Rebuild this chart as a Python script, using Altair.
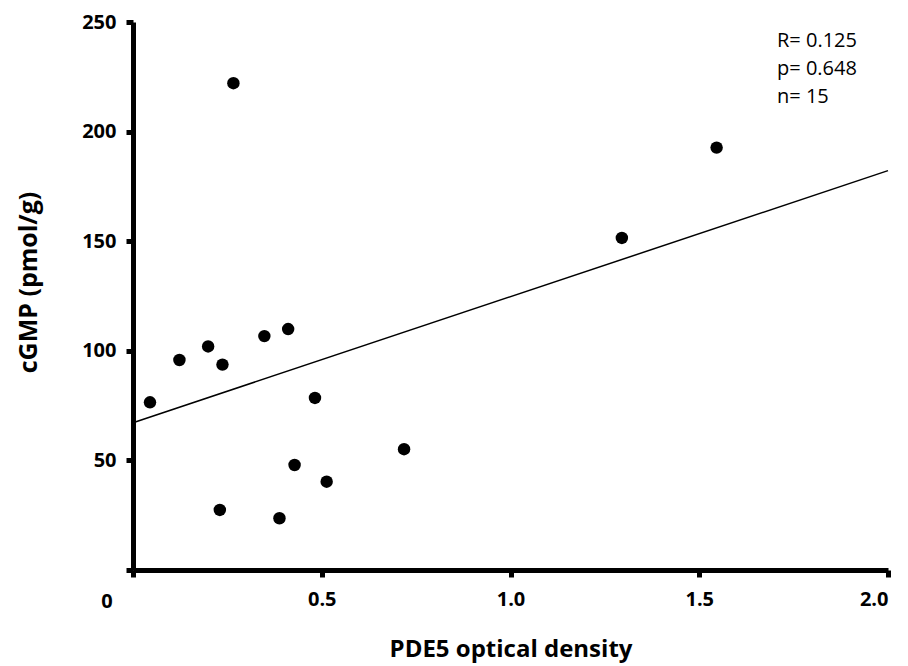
import altair as alt
import pandas as pd

# PDE5 optical density vs cGMP content, one point per sample
pde5_od = [0.045, 0.123, 0.199, 0.237, 0.230, 0.266, 0.348, 0.388,
           0.411, 0.428, 0.482, 0.513, 0.718, 1.295, 1.546]
cgmp = [76.5, 95.8, 102.0, 93.7, 27.4, 222.1, 106.7, 23.6,
        109.9, 47.9, 78.5, 40.3, 55.1, 151.5, 192.7]

# statistics block shown in the upper right corner
stat_lines = ["R= 0.125", "p= 0.648", "n= 15"]
stat_x = [1.706, 1.706, 1.706]
stat_y = [241.3, 228.6, 215.8]

x_ticks = [0, 0.5, 1.0, 1.5, 2.0]
y_ticks = [0, 50, 100, 150, 200, 250]

FONT = "Open Sans"

points = pd.DataFrame({"od": pde5_od, "cgmp": cgmp})
stats = pd.DataFrame({"label": stat_lines, "x": stat_x, "y": stat_y})
origin = pd.DataFrame({"x": [0], "y": [0], "label": ["0"]})

x_scale = alt.Scale(domain=[0, 2], nice=False, zero=False)
y_scale = alt.Scale(domain=[0, 250], nice=False)

x_axis = alt.Axis(
    title="PDE5 optical density",
    values=x_ticks,
    labelExpr="datum.value == 0 ? '' : format(datum.value, '.1f')",
    grid=False,
    domainColor="black", domainWidth=5,
    tickColor="black", tickWidth=5, tickSize=7,
    labelFont=FONT, labelFontSize=20, labelFontWeight="bold", labelColor="black",
    labelPadding=12,
    titleFont=FONT, titleFontSize=24, titleFontWeight="bold", titleColor="black",
    titlePadding=28,
)
y_axis = alt.Axis(
    title="cGMP (pmol/g)",
    values=y_ticks,
    labelExpr="datum.value == 0 ? '' : datum.value",
    grid=False,
    domainColor="black", domainWidth=5,
    tickColor="black", tickWidth=5, tickSize=7,
    labelFont=FONT, labelFontSize=20, labelFontWeight="bold", labelColor="black",
    labelPadding=10,
    titleFont=FONT, titleFontSize=25, titleFontWeight="bold", titleColor="black",
    titlePadding=40,
    titleY=260,
)

base = alt.Chart(points)

dots = base.mark_circle(size=155, color="black", opacity=1).encode(
    x=alt.X("od:Q", scale=x_scale, axis=x_axis),
    y=alt.Y("cgmp:Q", scale=y_scale, axis=y_axis),
)

fit = base.transform_regression("od", "cgmp", extent=[0, 2]).mark_line(
    color="black", strokeWidth=1.5
).encode(
    x=alt.X("od:Q", scale=x_scale),
    y=alt.Y("cgmp:Q", scale=y_scale),
)

stat_text = alt.Chart(stats).mark_text(
    align="left", baseline="middle", font=FONT, fontSize=20, color="black"
).encode(
    x=alt.X("x:Q", scale=x_scale),
    y=alt.Y("y:Q", scale=y_scale),
    text="label:N",
)

origin_label = alt.Chart(origin).mark_text(
    align="center", baseline="middle", font=FONT, fontSize=20,
    fontWeight="bold", color="black", dx=-26, dy=32
).encode(
    x=alt.X("x:Q", scale=x_scale),
    y=alt.Y("y:Q", scale=y_scale),
    text="label:N",
)

chart = alt.layer(fit, dots, stat_text, origin_label).properties(
    width=755,
    height=548,
    autosize=alt.AutoSizeParams(type="none"),
    padding={"left": 133, "top": 22, "right": 20, "bottom": 96},
    background="white",
).configure_view(stroke=None)

chart.save("out.html", embed_options={"renderer": "svg", "actions": False})
